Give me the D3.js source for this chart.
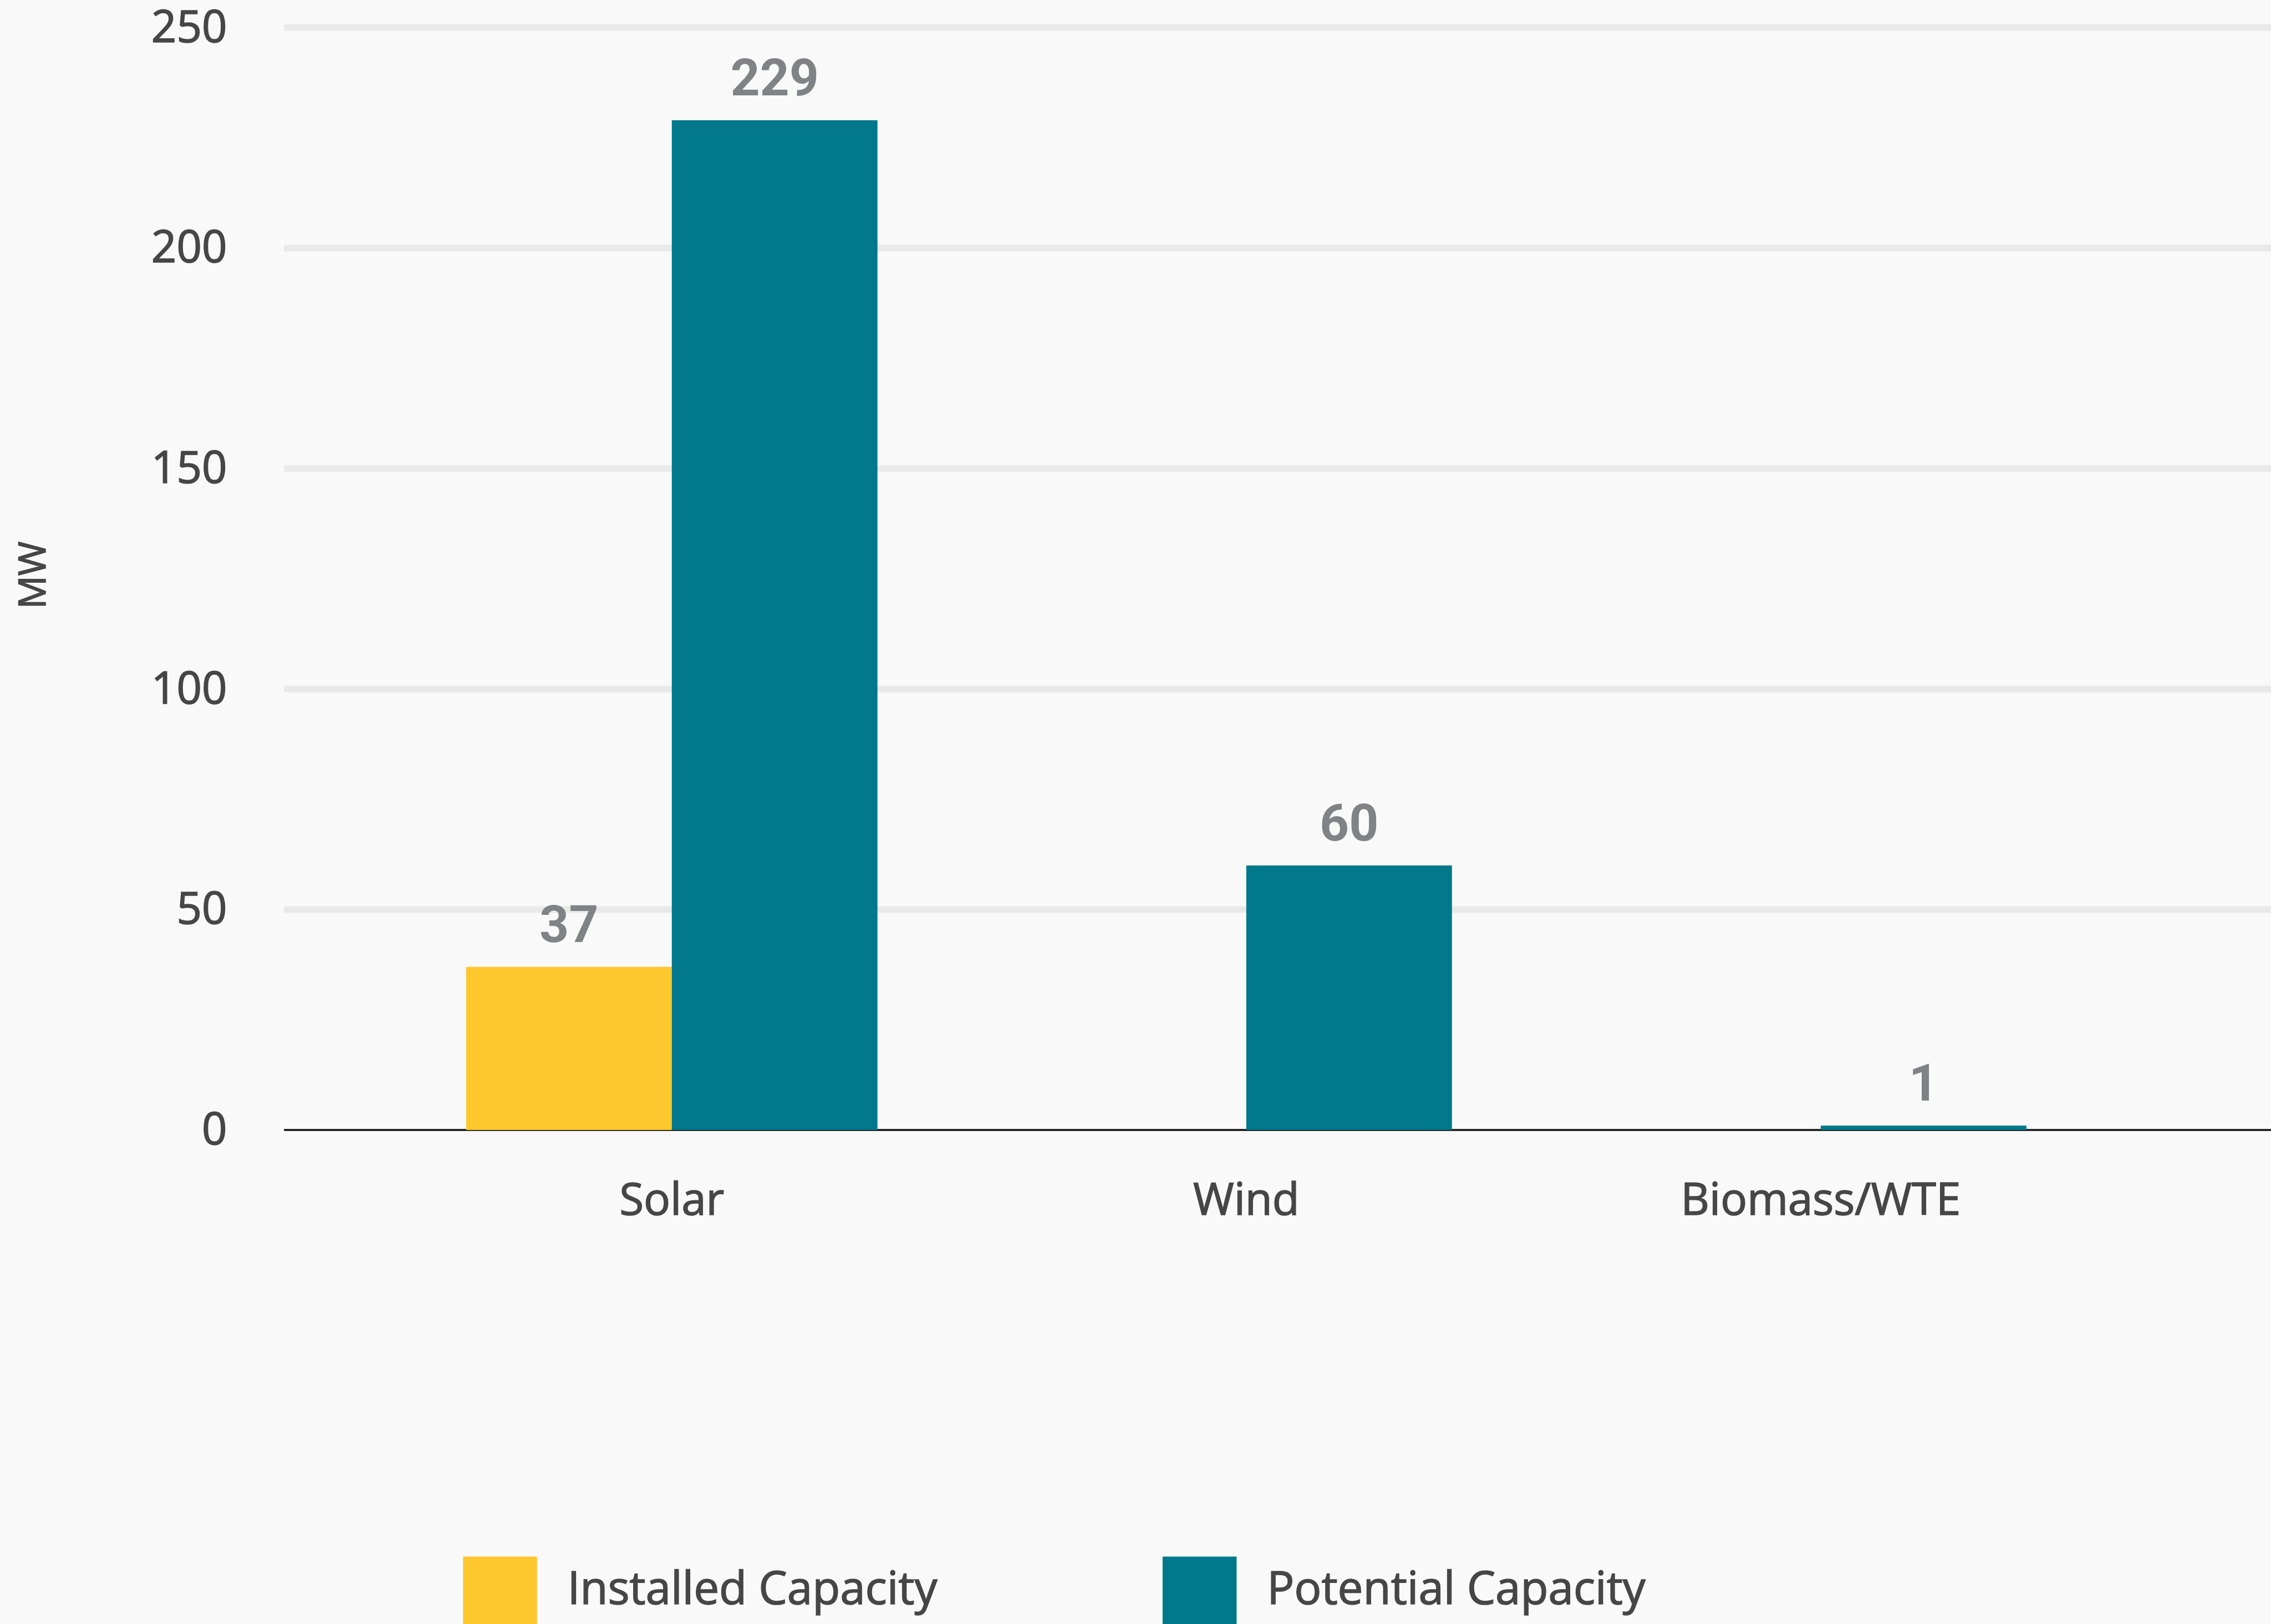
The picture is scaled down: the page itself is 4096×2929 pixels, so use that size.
<!DOCTYPE html>
<html>
<head>
<meta charset="utf-8">
<script src="https://cdn.jsdelivr.net/npm/d3@7"></script>
<style>
  html, body { margin: 0; padding: 0; background: #f9f9f9; overflow: hidden; }
  svg { display: block; }
  .label { font-family: 'Open Sans', 'Noto Sans', sans-serif; fill: #464646; stroke: #464646; stroke-width: 1.6px; paint-order: stroke; }
</style>
</head>
<body>
<svg id="chart"></svg>
<script>
// Renewable energy capacity by source (MW)
const categories = ["Solar", "Wind", "Biomass/WTE"];
const seriesNames = ["Installed Capacity", "Potential Capacity"];
const installedValues = [37, 0, 0];
const potentialValues = [229, 60, 1];
const yTickValues = [0, 50, 100, 150, 200, 250];
const seriesColors = ["#ffc72e", "#01788b"];

// Layout in design units; the viewBox scales it to the window
const W = 4110, H = 2939;
const plotLeft = 514, plotRight = 4110;
const plotTop = 50, plotBottom = 2045;
const bandLeft = 696, bandRight = 3815;

const svg = d3.select("#chart")
  .attr("width", 4096)
  .attr("height", 2929)
  .attr("viewBox", `0 0 ${W} ${H}`);

svg.append("rect").attr("width", W).attr("height", H).attr("fill", "#f9f9f9");

const y = d3.scaleLinear().domain([0, 250]).range([plotBottom, plotTop]);

const x0 = d3.scaleBand()
  .domain(categories)
  .range([bandLeft, bandRight])
  .paddingInner(0.284)
  .paddingOuter(0.142);

const x1 = d3.scaleBand()
  .domain(seriesNames)
  .range([0, x0.bandwidth()]);

const color = d3.scaleOrdinal().domain(seriesNames).range(seriesColors);

// Horizontal gridlines
svg.append("g")
  .selectAll("line")
  .data(yTickValues.filter(d => d > 0))
  .join("line")
  .attr("x1", plotLeft)
  .attr("x2", plotRight)
  .attr("y1", d => y(d))
  .attr("y2", d => y(d))
  .attr("stroke", "#e9e9e9")
  .attr("stroke-width", 12);

// Baseline
svg.append("line")
  .attr("x1", plotLeft)
  .attr("x2", plotRight)
  .attr("y1", y(0))
  .attr("y2", y(0))
  .attr("stroke", "#111")
  .attr("stroke-width", 3.5);

// Y axis labels
const yAxis = svg.append("g")
  .attr("transform", `translate(${plotLeft},0)`)
  .call(d3.axisLeft(y).tickValues(yTickValues).tickSize(0).tickPadding(103));
yAxis.select(".domain").remove();
yAxis.attr("font-family", null).attr("font-size", null);
yAxis.selectAll("text")
  .attr("class", "label")
  .attr("font-size", 80);

// X axis labels
const xAxis = svg.append("g")
  .attr("transform", `translate(0,${plotBottom})`)
  .call(d3.axisBottom(x0).tickSize(0).tickPadding(97));
xAxis.select(".domain").remove();
xAxis.attr("font-family", null).attr("font-size", null);
xAxis.selectAll("text")
  .attr("class", "label")
  .attr("font-size", 80);

// Y axis title
svg.append("text")
  .attr("class", "label")
  .attr("transform", `translate(82,1041) rotate(-90)`)
  .attr("text-anchor", "middle")
  .attr("font-size", 67)
  .text("MW");

// Grouped bars
const rows = categories.map((c, i) => ({
  category: c,
  values: [
    { series: seriesNames[0], value: installedValues[i] },
    { series: seriesNames[1], value: potentialValues[i] }
  ]
}));

const groups = svg.append("g")
  .selectAll("g")
  .data(rows)
  .join("g")
  .attr("transform", d => `translate(${x0(d.category)},0)`);

groups.selectAll("rect")
  .data(d => d.values)
  .join("rect")
  .attr("x", d => x1(d.series))
  .attr("width", x1.bandwidth())
  .attr("y", d => y(d.value))
  .attr("height", d => y(0) - y(d.value))
  .attr("fill", d => color(d.series));

// Value labels
groups.selectAll("text.value")
  .data(d => d.values.filter(v => v.value > 0))
  .join("text")
  .attr("class", "value")
  .attr("x", d => x1(d.series) + x1.bandwidth() / 2)
  .attr("y", d => y(d.value) - 45)
  .attr("text-anchor", "middle")
  .attr("font-family", "Roboto, 'DejaVu Sans Condensed', sans-serif")
  .attr("font-weight", 700)
  .attr("font-size", 93)
  .attr("fill", "#808285")
  .text(d => d.value);

// Legend
const legendX = [838, 2104];
const legend = svg.append("g")
  .selectAll("g")
  .data(seriesNames)
  .join("g")
  .attr("transform", (d, i) => `translate(${legendX[i]},2817)`);

legend.append("rect")
  .attr("width", 134)
  .attr("height", 134)
  .attr("fill", d => color(d));

legend.append("text")
  .attr("class", "label")
  .attr("x", 189)
  .attr("y", 86)
  .attr("font-size", 82)
  .text(d => d);
</script>
</body>
</html>
